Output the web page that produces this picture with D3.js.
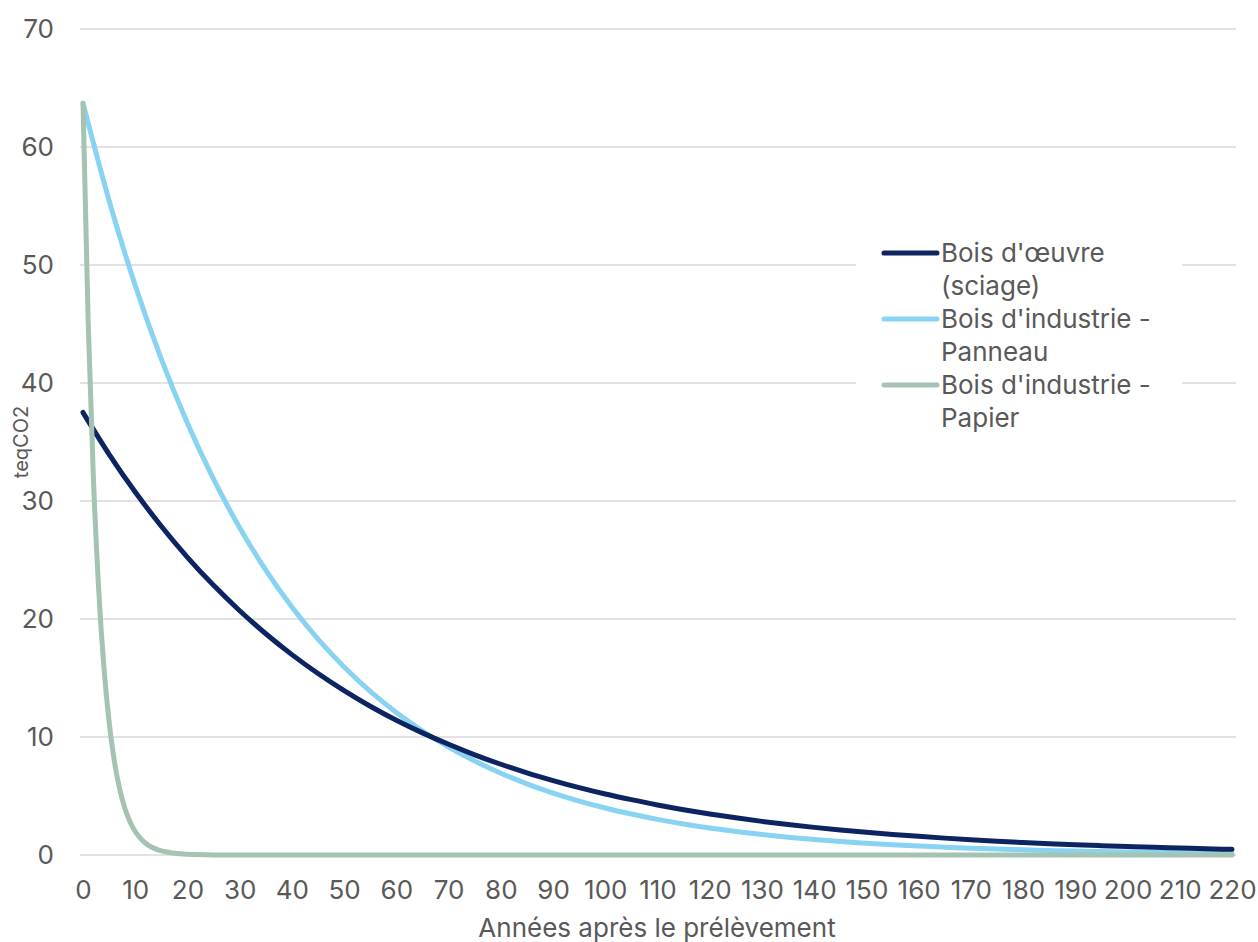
<!DOCTYPE html>
<html><head><meta charset="utf-8">
<script src="https://cdn.jsdelivr.net/npm/d3@7"></script>
<style>body{margin:0;background:#fff;}svg{display:block;font-family:Inter,"Open Sans",sans-serif;}</style>
</head><body><svg id="c" width="1258" height="942"></svg>
<script>
// Data
const yearsCoarse = [0,5,10,15,20,25,30,35,40,45,50,55,60,65,70,75,80,85,90,95,100,105,110,115,120,125,130,135,140,145,150,155,160,165,170,175,180,185,190,195,200,205,210,215,220];
const boisOeuvre = [37.5,33.96,30.76,27.86,25.23,22.85,20.70,18.75,16.98,15.38,13.93,12.61,11.42,10.35,9.38,8.49,7.69,6.96,6.31,5.71,5.17,4.69,4.24,3.84,3.48,3.15,2.85,2.58,2.34,2.12,1.92,1.74,1.58,1.43,1.29,1.17,1.06,0.96,0.87,0.79,0.72,0.65,0.59,0.53,0.48];
const panneau = [63.7,55.45,48.27,42.02,36.58,31.85,27.73,24.14,21.01,18.29,15.93,13.86,12.07,10.51,9.15,7.96,6.93,6.03,5.25,4.57,3.98,3.47,3.02,2.63,2.29,1.99,1.73,1.51,1.31,1.14,1.00,0.87,0.76,0.66,0.57,0.50,0.44,0.38,0.33,0.29,0.25,0.22,0.19,0.16,0.14];
const yearsPapier = [0,1,2,3,4,5,6,7,8,9,10,11,12,13,14,15,16,17,18,19,20,25,30,40,60,80,100,120,140,160,180,200,220];
const papier = [63.7,45.04,31.85,22.52,15.93,11.26,7.96,5.63,3.98,2.82,1.99,1.41,1.00,0.70,0.50,0.35,0.25,0.18,0.12,0.09,0.06,0.01,0,0,0,0,0,0,0,0,0,0,0];
const seriesNames = ["Bois d'œuvre (sciage)","Bois d'industrie - Panneau","Bois d'industrie - Papier"];
const legendLines = [["Bois d'œuvre","(sciage)"],["Bois d'industrie -","Panneau"],["Bois d'industrie -","Papier"]];
const colors = ["#0c2461","#88d3f2","#a4c3b3"];
const xTicks = d3.range(0,221,10);
const yTicks = [0,10,20,30,40,50,60,70];

const svg = d3.select("#c");
const x = d3.scaleLinear().domain([0,220]).range([83,1232]);
const y = d3.scaleLinear().domain([0,70]).range([855,29]);
const txt = "#595959";
const fs = "26px";

// gridlines
svg.append("g").selectAll("line").data(yTicks).join("line")
  .attr("x1",80).attr("x2",1236).attr("y1",d=>y(d)).attr("y2",d=>y(d))
  .attr("stroke","#d9d9d9").attr("stroke-width",1.5);

// y axis labels
const yAxis = d3.axisLeft(y).tickValues(yTicks).tickSize(0).tickPadding(0);
const gy = svg.append("g").attr("transform","translate(54,0)").call(yAxis);
gy.select(".domain").remove();
gy.selectAll("text").attr("fill",txt).style("font-size",fs).style("font-family","Inter");

// x axis labels
const xAxis = d3.axisBottom(x).tickValues(xTicks).tickSize(0).tickPadding(0);
const gx = svg.append("g").attr("transform","translate(0,881)").call(xAxis);
gx.select(".domain").remove();
gx.selectAll("text").attr("fill",txt).style("font-size",fs).style("font-family","Inter");

// axis titles
svg.append("text").attr("x",657).attr("y",937).attr("text-anchor","middle")
  .attr("fill",txt).style("font-size",fs).text("Années après le prélèvement");
svg.append("text").attr("transform","translate(28,442) rotate(-90)").attr("text-anchor","middle")
  .attr("fill",txt).style("font-size","20px").text("teqCO2");

// lines
const line = d3.line().x(d=>x(d[0])).y(d=>y(d[1])).curve(d3.curveMonotoneX);
const data = [
  d3.zip(yearsCoarse, boisOeuvre),
  d3.zip(yearsCoarse, panneau),
  d3.zip(yearsPapier, papier)
];
[1,0,2].forEach(i=>{
  svg.append("path").attr("d",line(data[i])).attr("fill","none")
    .attr("stroke",colors[i]).attr("stroke-width",5)
    .attr("stroke-linecap","round").attr("stroke-linejoin","round");
});

// legend
const lg = svg.append("g");
lg.append("rect").attr("x",856).attr("y",236).attr("width",326).attr("height",200).attr("fill","#fff");
legendLines.forEach((ls,i)=>{
  const yy = 253 + i*66;
  lg.append("line").attr("x1",884).attr("x2",937).attr("y1",yy).attr("y2",yy)
    .attr("stroke",colors[i]).attr("stroke-width",5).attr("stroke-linecap","round");
  ls.forEach((t,j)=>{
    lg.append("text").attr("x",941).attr("y",yy+9+j*33).attr("fill",txt)
      .style("font-size",fs).text(t);
  });
});
</script></body></html>
